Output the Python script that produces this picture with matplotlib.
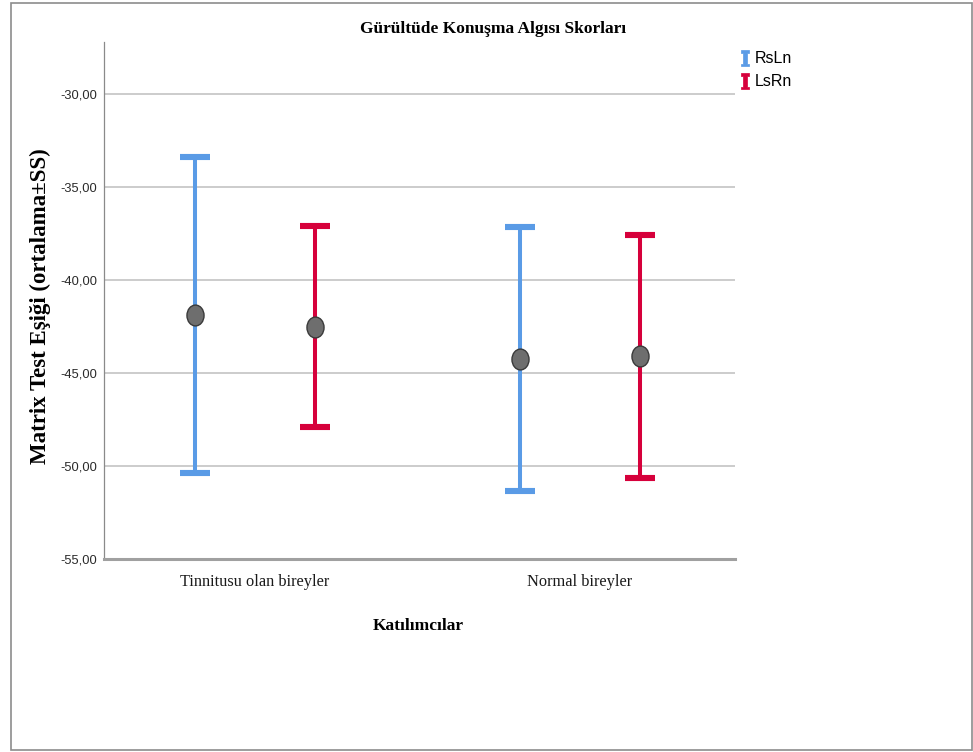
import matplotlib.pyplot as plt
import numpy as np
from matplotlib.path import Path
from matplotlib.transforms import Affine2D
from matplotlib.lines import Line2D
from matplotlib.patches import Rectangle

groups = ['Tinnitusu olan bireyler', 'Normal bireyler']
series = ['RsLn', 'LsRn']
colors = ['#5a9be6', '#d6003b']

# ortalama ve standart sapma (SS)
means = {
    'RsLn': [-41.9, -44.25],
    'LsRn': [-42.5, -44.1],
}
sds = {
    'RsLn': [8.5, 7.1],
    'LsRn': [5.4, 6.55],
}

yticks = [-55, -50, -45, -40, -35, -30]

serif = ['Liberation Serif', 'DejaVu Serif']
narrow = ['Liberation Sans Narrow', 'Liberation Sans', 'DejaVu Sans']

fig = plt.figure(figsize=(9.73, 7.52), dpi=100)
ax = fig.add_axes([0.1069, 0.2566, 0.6485, 0.6875])

# ortalama noktası için hafif dikey elips
ellipse = Path.unit_circle().transformed(Affine2D().scale(0.82, 1.0))

offsets = [-0.1846, 0.1846]
x = np.arange(len(groups))
for s, off, c in zip(series, offsets, colors):
    ax.errorbar(x + off, means[s], yerr=sds[s], fmt='none', ecolor=c,
                elinewidth=2.9, capsize=10.8, capthick=4.4, zorder=3)
    ax.plot(x + off, means[s], linestyle='none', marker=ellipse,
            markersize=15, markerfacecolor='#6e6e6e',
            markeredgecolor='#3a3a3a', markeredgewidth=1.0, zorder=4)

ax.set_xlim(-0.4646, 1.477)
ax.set_ylim(-55, -27.2)
ax.set_yticks(yticks)
ax.set_yticklabels([f'{v:.2f}'.replace('.', ',') for v in yticks],
                   family=narrow, fontsize=9.3, color='#2a2a2a')
ax.set_xticks(x)
ax.set_xticklabels(groups, family=serif, fontsize=11.8, color='#1a1a1a')
ax.tick_params(axis='both', length=0)
ax.tick_params(axis='y', pad=5)
ax.tick_params(axis='x', pad=11)

ax.grid(axis='y', color='#cccccc', linewidth=1.4, zorder=0)
ax.set_axisbelow(True)
for side in ['top', 'right']:
    ax.spines[side].set_visible(False)
ax.spines['left'].set_color('#8a8a8a')
ax.spines['left'].set_linewidth(0.9)
ax.spines['bottom'].set_color('#a0a0a0')
ax.spines['bottom'].set_linewidth(2.2)

ax.set_xlabel('Katılımcılar', family=serif, fontsize=12.5, fontweight='bold')
ax.xaxis.set_label_coords(0.498, -0.114)
ax.set_ylabel('Matrix Test Eşiği (ortalama±SS)', family=serif, fontsize=16.5,
              fontweight='bold')
ax.yaxis.set_label_coords(-0.084, 0.489)

fig.text(0.507, 0.962, 'Gürültüde Konuşma Algısı Skorları', family=serif,
         fontsize=12.5, fontweight='bold', ha='center', va='center')

# lejant: küçük I biçimli hata çubuğu işareti
ibeam = Path([(-0.5, 1), (0.5, 1), (0.5, 0.72), (0.24, 0.72), (0.24, -0.72),
              (0.5, -0.72), (0.5, -1), (-0.5, -1), (-0.5, -0.72),
              (-0.24, -0.72), (-0.24, 0.72), (-0.5, 0.72), (-0.5, 1)],
             closed=True)
handles = [Line2D([], [], linestyle='none', marker=ibeam, markersize=11,
                  markerfacecolor=c, markeredgecolor=c, markeredgewidth=0.5)
           for c in colors]
fig.legend(handles, series, loc='upper left', bbox_to_anchor=(0.746, 0.951),
           frameon=False, handlelength=0.6, handletextpad=0.3,
           labelspacing=0.5, prop={'family': narrow, 'size': 11.5})

fig.patches.append(Rectangle((0.0115, 0.002), 0.987, 0.994,
                             transform=fig.transFigure, fill=False,
                             edgecolor='#8c8c8c', linewidth=1.2))

fig.savefig('out.png', dpi=100)
